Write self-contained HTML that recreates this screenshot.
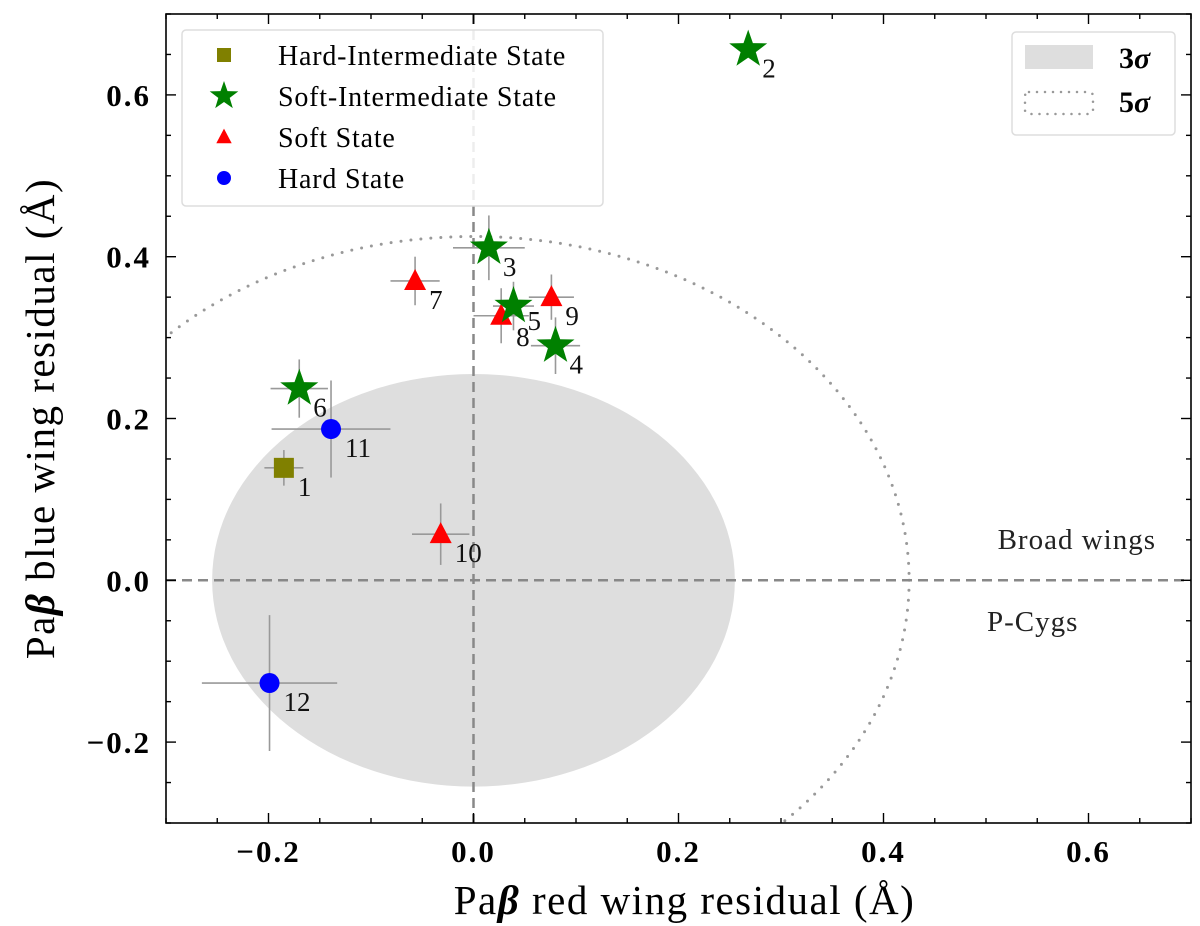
<!DOCTYPE html>
<html><head><meta charset="utf-8"><style>
body{margin:0;background:#fff}
svg{display:block;font-family:"Liberation Serif","DejaVu Serif",serif}
</style></head><body>
<svg id="chart" width="1200" height="926" viewBox="0 0 1200 926" xmlns="http://www.w3.org/2000/svg">
<g id="plot"></g>
</svg>
<script>
const ids=[1,2,3,4,5,6,7,8,9,10,11,12];
const xs=[-0.185,0.268,0.015,0.080,0.039,-0.170,-0.057,0.027,0.076,-0.032,-0.139,-0.199];
const ys=[0.139,0.656,0.411,0.290,0.339,0.237,0.370,0.327,0.350,0.057,0.187,-0.127];
const xerr=[0.019,0,0.035,0.024,0.02,0.028,0.024,0.027,0.022,0.028,0.058,0.066];
const yerr=[0.022,0,0.04,0.035,0.03,0.036,0.03,0.034,0.028,0.038,0.06,0.084];
const states=["hi","si","si","si","si","si","s","s","s","s","h","h"];
const xticks=[-0.2,0,0.2,0.4,0.6];
const xtickLabels=["\u22120.2","0.0","0.2","0.4","0.6"];
const yticks=[-0.2,0,0.2,0.4,0.6];
const ytickLabels=["\u22120.2","0.0","0.2","0.4","0.6"];
const r3=0.255, r5=0.425;

const L=166,R=1191,T=14,B=823, X0=-0.3,X1=0.7,Y0=-0.3,Y1=0.7;
const sx=v=>L+(v-X0)/(X1-X0)*(R-L);
const sy=v=>B-(v-Y0)/(Y1-Y0)*(B-T);
const NS="http://www.w3.org/2000/svg";
const g=document.getElementById('plot');
function mk(tag,attrs,parent){const e=document.createElementNS(NS,tag);for(const k in attrs)e.setAttribute(k,attrs[k]);(parent||g).appendChild(e);return e;}

const defs=mk('defs',{});
const cp=mk('clipPath',{id:'clip'},defs);mk('rect',{x:L,y:T,width:R-L,height:B-T},cp);
const clipG=mk('g',{'clip-path':'url(#clip)'});

let e=mk('ellipse',{cx:sx(0),cy:sy(0),rx:sx(r3)-sx(0),ry:sy(0)-sy(r3),fill:'#dedede'},clipG);


e=mk('ellipse',{cx:sx(0),cy:sy(0),rx:sx(r5)-sx(0),ry:sy(0)-sy(r5),fill:'none',stroke:'#999','stroke-width':3,'stroke-dasharray':'0 10','stroke-linecap':'round'},clipG);


e=mk('line',{x1:sx(0),x2:sx(0),y1:T,y2:B,stroke:'#888','stroke-width':2.5,'stroke-dasharray':'10 6'},clipG);


e=mk('line',{x1:L,x2:R,y1:sy(0),y2:sy(0),stroke:'#888','stroke-width':2.5,'stroke-dasharray':'10 6'},clipG);



e=mk('text',{x:1156,y:549,'font-size':29,'letter-spacing':1,'text-anchor':'end',fill:'#222'});e.textContent='Broad wings';


e=mk('text',{x:987,y:631,'font-size':29,'letter-spacing':1,fill:'#222'});e.textContent='P-Cygs';



function starPts(cx,cy,ro){const ri=ro*0.4;let p=[];for(let i=0;i<10;i++){const a=-Math.PI/2+i*Math.PI/5;const r=i%2?ri:ro;p.push((cx+r*Math.cos(a)).toFixed(1)+','+(cy+r*Math.sin(a)).toFixed(1));}return p.join(' ');}
function marker(st,cx,cy,parent,scale){
  scale=scale||1;
  if(st==='hi')return mk('rect',{x:cx-10*scale,y:cy-10*scale,width:20*scale,height:20*scale,fill:'#808000'},parent);
  if(st==='si')return mk('polygon',{points:starPts(cx,cy,20*scale),fill:'#008000'},parent);
  if(st==='s')return mk('polygon',{points:`${cx},${cy-12*scale} ${cx+11*scale},${cy+9*scale} ${cx-11*scale},${cy+9*scale}`,fill:'#ff0000'},parent);
  return mk('circle',{cx:cx,cy:cy,r:10*scale,fill:'#0000ff'},parent);
}
const order=[0,10,11,6,7,8,9,1,2,3,4,5];
for(const i of order){
  if(xerr[i]>0||yerr[i]>0){
    const eb=mk('g',{stroke:'#999','stroke-width':1.6});
    
    
    mk('line',{x1:sx(xs[i]-xerr[i]),x2:sx(xs[i]+xerr[i]),y1:sy(ys[i]),y2:sy(ys[i])},eb);
    mk('line',{x1:sx(xs[i]),x2:sx(xs[i]),y1:sy(ys[i]-yerr[i]),y2:sy(ys[i]+yerr[i])},eb);
  }
}
for(const i of order){
  const m=marker(states[i],sx(xs[i]),sy(ys[i]));
  
  
  const t=mk('text',{x:sx(xs[i])+14,y:sy(ys[i])+28,'font-size':27,fill:'#111'});
  if(ids[i]===5){t.setAttribute('x',sx(xs[i])+14);t.setAttribute('y',sy(ys[i])+24);}
  if(ids[i]===8){t.setAttribute('x',sx(xs[i])+15);t.setAttribute('y',sy(ys[i])+30);}
  t.textContent=ids[i];
  
  
}

e=mk('rect',{x:L,y:T,width:R-L,height:B-T,fill:'none',stroke:'#000','stroke-width':1.6});


const tg=mk('g',{stroke:'#000','stroke-width':1.4});


for(let k=-6;k<=14;k++){const v=k*0.05;const x=sx(v);const maj=k%4===0;const len=maj?10:5;
  mk('line',{x1:x,x2:x,y1:B,y2:B-len},tg);mk('line',{x1:x,x2:x,y1:T,y2:T+len},tg);}
for(let k=-6;k<=14;k++){const v=k*0.05;const y=sy(v);const maj=k%4===0;const len=maj?10:5;
  mk('line',{x1:L,x2:L+len,y1:y,y2:y},tg);mk('line',{x1:R,x2:R-len,y1:y,y2:y},tg);}
xticks.forEach((v,i)=>{const t=mk('text',{x:sx(v),y:862,'font-size':31,'font-weight':'bold','letter-spacing':2,'text-anchor':'middle'});t.textContent=xtickLabels[i];
  
  });
yticks.forEach((v,i)=>{const t=mk('text',{x:151,y:sy(v)+11,'font-size':31,'font-weight':'bold','letter-spacing':2,'text-anchor':'end'});t.textContent=ytickLabels[i];
  
  });
e=mk('text',{x:sx(0.2)+6,y:914,'font-size':41,'letter-spacing':1.5,'text-anchor':'middle'});
e.innerHTML='Pa<tspan font-weight="bold" font-style="italic">β</tspan> red wing residual (Å)';


e=mk('text',{x:0,y:0,'font-size':41,'letter-spacing':1.5,'text-anchor':'middle',transform:`translate(54,${sy(0.2)}) rotate(-90)`});
e.innerHTML='Pa<tspan font-weight="bold" font-style="italic">β</tspan> blue wing residual (Å)';



const lg=mk('g',{});


mk('rect',{x:182,y:30,width:421,height:176,rx:4,fill:'rgba(255,255,255,0.85)',stroke:'#ddd','stroke-width':1.5},lg);
const legS=['hi','si','s','h'],legT=['Hard-Intermediate State','Soft-Intermediate State','Soft State','Hard State'];
legS.forEach((s,i)=>{const y=55+i*41;const m=marker(s,224,y,lg,s==='si'?0.75:0.7);
  
  
  const t=mk('text',{x:278,y:y+10,'font-size':28,'letter-spacing':0.8},lg);t.textContent=legT[i];
  
  });
const lg2=mk('g',{});


mk('rect',{x:1012,y:32,width:163,height:103,rx:4,fill:'#fff',stroke:'#ddd','stroke-width':1.5},lg2);
mk('rect',{x:1025,y:45,width:68,height:24,fill:'#dedede'},lg2);
mk('rect',{x:1025,y:92,width:68,height:22,rx:4,fill:'none',stroke:'#999','stroke-width':2.5,'stroke-dasharray':'0 8','stroke-linecap':'round'},lg2);
e=mk('text',{x:1119,y:68,'font-size':30,'font-weight':'bold'},lg2);e.innerHTML='3<tspan font-style="italic">σ</tspan>';


e=mk('text',{x:1119,y:112,'font-size':30,'font-weight':'bold'},lg2);e.innerHTML='5<tspan font-style="italic">σ</tspan>';


</script>
</body></html>
